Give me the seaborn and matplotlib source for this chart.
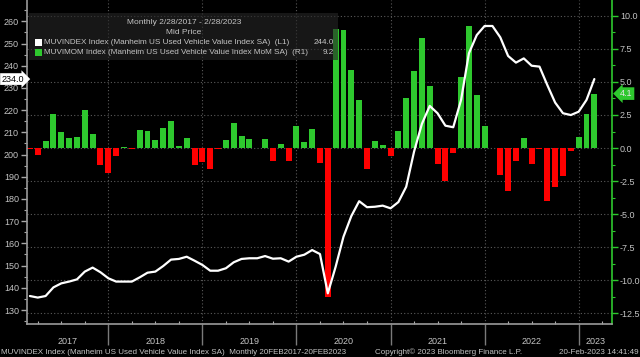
import numpy as np
import pandas as pd
import matplotlib
matplotlib.use("Agg")
import matplotlib.pyplot as plt
import matplotlib.transforms as mtransforms
from matplotlib.patches import Rectangle
from matplotlib.ticker import MultipleLocator, FixedLocator, FuncFormatter
import seaborn as sns

# ---------------- data ----------------
months = list(pd.date_range("2017-02-28", periods=73, freq="ME").strftime("%Y-%m"))

mom_change = [-0.1, -0.5, 0.56, 2.6, 1.2, 0.73, 0.83, 2.85, 1.06, -1.29, -1.87, -0.63,
              0.05, -0.08, 1.39, 1.29, 0.58, 1.54, 2.07, 0.18, 0.78, -1.26, -1.04, -1.57,
              -0.1, 0.6, 1.87, 0.93, 0.66, 0.03, 0.7, -1.0, 0.33, -0.96, 1.64, 0.45,
              1.41, -1.1, -11.3, 9.0, 8.94, 5.93, 3.66, -1.57, 0.5, 0.2, -0.58, 1.29,
              3.79, 5.86, 8.36, 4.7, -1.24, -2.5, -0.38, 5.35, 9.27, 3.99, 1.69, 0.03,
              -2.02, -3.26, -0.98, 0.76, -1.24, -0.05, -3.99, -2.93, -2.15, -0.25, 0.86, 2.58, 4.12]

index_level = [136.3, 135.6, 136.3, 140.2, 142.0, 142.8, 143.8, 147.3, 149.1, 147.0, 144.3, 142.8,
               142.8, 142.8, 144.7, 146.8, 147.3, 149.8, 152.7, 153.0, 154.0, 152.2, 150.3, 147.7,
               147.7, 148.8, 151.5, 153.0, 153.3, 153.3, 154.3, 153.1, 153.3, 151.8, 154.0, 154.9,
               157.0, 155.2, 137.5, 149.5, 163.0, 172.3, 179.0, 176.3, 176.5, 177.0, 175.8, 178.6,
               185.5, 201.3, 213.8, 221.9, 218.6, 213.0, 212.3, 224.6, 245.6, 253.8, 257.9, 257.9,
               252.8, 244.4, 241.4, 243.3, 240.0, 239.6, 231.3, 223.4, 218.6, 217.8, 219.3, 224.6, 234.0]

year_labels = ["2017", "2018", "2019", "2020", "2021", "2022", "2023"]
last_index_label = "234.0"
last_mom_label = "4.1"

legend_title = "Monthly 2/28/2017 - 2/28/2023"
legend_sub = "Mid Price"
legend_rows = ["MUVINDEX Index (Manheim US Used Vehicle Value Index SA)  (L1)",
               "MUVIMOM Index (Manheim US Used Vehicle Value Index MoM SA)  (R1)"]
legend_values = ["244.0", "9.2"]

# ---------------- style ----------------
GREEN = "#2ec82e"
RED = "#ff0000"
TXT = "#c4c4c4"
GRID = "#5a5a5a"

sns.set_theme(style="dark")
plt.rcParams.update({
    "font.family": ["Liberation Sans Narrow", "Liberation Sans", "DejaVu Sans"],
    "axes.unicode_minus": False,
    "figure.facecolor": "black",
    "axes.facecolor": "black",
    "savefig.facecolor": "black",
})

n = len(months)
df = pd.DataFrame({"month": months, "pos": np.arange(n),
                   "mom": mom_change, "index": index_level})
df["sign"] = np.where(df["mom"] >= 0, "up", "down")

fig = plt.figure(figsize=(6.4, 3.57), dpi=100)
ax = fig.add_axes([26.7 / 640, 1 - 324 / 357, (612.3 - 26.7) / 640, 324 / 357])
ax.set_facecolor("black")

sns.barplot(data=df, x="pos", y="mom", hue="sign", palette={"up": GREEN, "down": RED},
            native_scale=True, width=0.76, dodge=False, legend=False, saturation=1,
            linewidth=0, ax=ax)

ax2 = ax.twinx()
sns.lineplot(data=df, x="pos", y="index", color="white", linewidth=1.6, ax=ax2)

for a in (ax, ax2):
    a.set_xlabel("")
    a.set_ylabel("")

# limits
ax.set_xlim(-0.41, 74.29)
ax.set_ylim(-13.33, 11.21)
ax2.set_ylim(123.7, 269.6)

# right axis (MoM) on host
ax.yaxis.tick_right()
ax.yaxis.set_major_locator(MultipleLocator(2.5))
ax.yaxis.set_minor_locator(MultipleLocator(1.25))
ax.yaxis.set_major_formatter(FuncFormatter(lambda v, p: f"{v:.1f}"))
ax.tick_params(axis="y", which="major", right=True, left=False, length=4, width=1,
               color=GREEN, labelcolor=TXT, labelsize=6.5, pad=1.5)
ax.tick_params(axis="y", which="minor", right=True, left=False, length=2.5, width=0.8, color=GREEN)

# left axis (index) on twin
ax2.yaxis.tick_left()
ax2.yaxis.set_major_locator(MultipleLocator(10))
ax2.yaxis.set_minor_locator(MultipleLocator(5))
ax2.yaxis.set_major_formatter(FuncFormatter(lambda v, p: f"{v:.0f}"))
ax2.tick_params(axis="y", which="major", left=True, right=False, length=4, width=1,
                color="#a8a8a8", labelcolor=TXT, labelsize=6.5, pad=1.5)
ax2.tick_params(axis="y", which="minor", left=True, right=False, length=2.5, width=0.8, color="#a8a8a8")

# x axis: year boundaries + quarter ticks
year_bounds = [10, 22, 34, 46, 58, 70]
ax.xaxis.set_major_locator(FixedLocator(year_bounds))
ax.xaxis.set_minor_locator(FixedLocator([q for q in range(1, 75, 3) if q not in year_bounds]))
ax.xaxis.set_major_formatter(FuncFormatter(lambda v, p: ""))
ax.tick_params(axis="x", which="major", bottom=True, length=15, width=1, color="#7a7a7a", direction="out")
ax.tick_params(axis="x", which="minor", bottom=True, length=2, width=0.8, color="#b0b0b0", direction="in")

# grid
ax.set_axisbelow(True)
ax.grid(True, which="major", axis="both", color=GRID, linestyle=(0, (1, 2)), linewidth=0.8)
ax2.grid(False)

# spines
for s in ("top", "left"):
    ax.spines[s].set_visible(False)
ax.spines["right"].set_color(GREEN)
ax.spines["right"].set_linewidth(1.2)
ax.spines["bottom"].set_color("#9a9a9a")
ax.spines["bottom"].set_linewidth(1.2)
for s in ("top", "right", "bottom"):
    ax2.spines[s].set_visible(False)
ax2.spines["left"].set_color("#9a9a9a")
ax2.spines["left"].set_linewidth(1.2)

# year labels
bounds = [ax.get_xlim()[0]] + year_bounds + [ax.get_xlim()[1]]
ytrans = mtransforms.blended_transform_factory(ax.transData, fig.transFigure)
for lab, a0, a1 in zip(year_labels, bounds[:-1], bounds[1:]):
    ax.text((a0 + a1) / 2, 1 - 341 / 357, lab, transform=ytrans, ha="center", va="center",
            color=TXT, fontsize=6.5)

# last value tags
lt = mtransforms.blended_transform_factory(fig.transFigure, ax2.transData)
fig.text(1.5 / 640, index_level[-1], last_index_label, transform=lt, ha="left", va="center",
         fontsize=6.5, color="black",
         bbox=dict(boxstyle="rarrow,pad=0.15", fc="white", ec="none"), zorder=20)
rt = mtransforms.blended_transform_factory(fig.transFigure, ax.transData)
fig.text(620 / 640, mom_change[-1], last_mom_label, transform=rt, ha="left", va="center",
         fontsize=6.5, color="#e6e6e6",
         bbox=dict(boxstyle="larrow,pad=0.2", fc=GREEN, ec="none"), zorder=20)

# legend panel
W, H = 640.0, 357.0
fig.patches.append(Rectangle((29 / W, 1 - 60 / H), (338 - 29) / W, (60 - 13.3) / H,
                             transform=fig.transFigure, facecolor="#262626", alpha=0.62,
                             edgecolor="none", zorder=10))
fig.text(184 / W, 1 - 22.3 / H, legend_title, ha="center", va="center", color=TXT, fontsize=6.0, zorder=11)
fig.text(184 / W, 1 - 32.3 / H, legend_sub, ha="center", va="center", color=TXT, fontsize=6.0, zorder=11)
for k, (row, val, col) in enumerate(zip(legend_rows, legend_values, ["white", GREEN])):
    yc = 42.3 + 10 * k
    fig.patches.append(Rectangle((35 / W, 1 - (yc + 3.5) / H), 7 / W, 7 / H, transform=fig.transFigure,
                                 facecolor=col, edgecolor="none", zorder=11))
    fig.text(44 / W, 1 - yc / H, row, ha="left", va="center", color=TXT, fontsize=5.9, zorder=11)
    fig.text(334 / W, 1 - yc / H, val, ha="right", va="center", color=TXT, fontsize=5.9, zorder=11)

# footer
fig.text(1 / W, 1 - 352 / H, "MUVINDEX Index (Manheim US Used Vehicle Value Index SA)  Monthly 20FEB2017-20FEB2023",
         ha="left", va="center", color=TXT, fontsize=5.8)
fig.text(375 / W, 1 - 352 / H, "Copyright\u00a9 2023 Bloomberg Finance L.P.", ha="left", va="center",
         color=TXT, fontsize=5.8)
fig.text(639 / W, 1 - 352 / H, "20-Feb-2023 14:41:49", ha="right", va="center", color=TXT, fontsize=5.8)

fig.savefig("out.png", dpi=100, facecolor="black")
